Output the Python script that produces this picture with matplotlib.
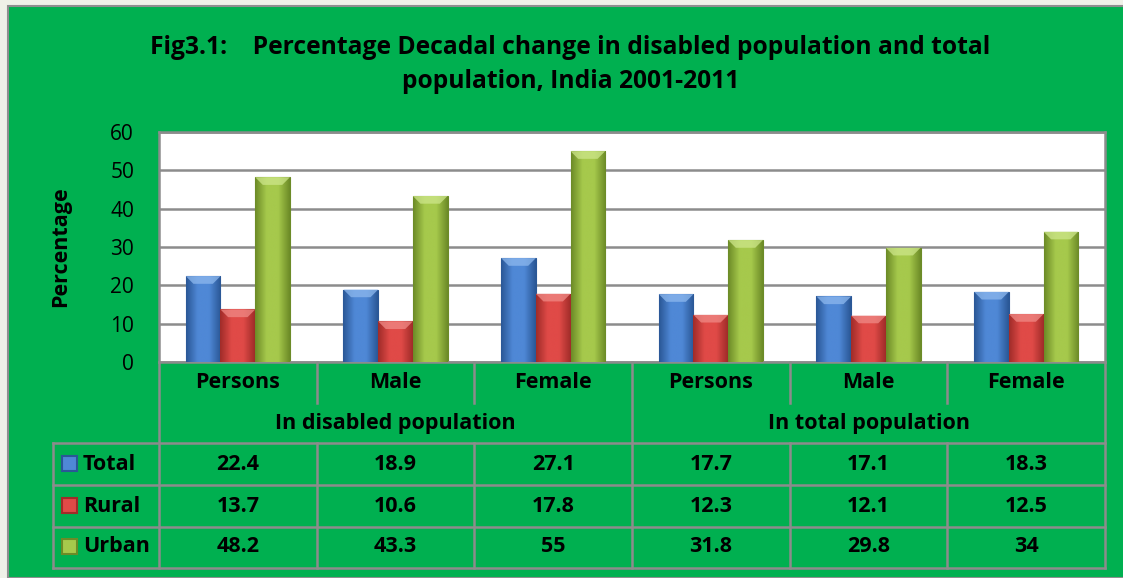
#======================================================================
#   IMPORTS:
#======================================================================

import numpy as np
import matplotlib
matplotlib.use('Agg')
from matplotlib import pyplot as plt
from matplotlib.patches import Rectangle, Polygon
from matplotlib.colors import LinearSegmentedColormap
import matplotlib.transforms as mtransforms


#======================================================================
#   DATA:
#======================================================================

ls_categories = ['Persons', 'Male', 'Female', 'Persons', 'Male', 'Female']
ls_groups = ['In disabled population', 'In total population']
ls_series = ['Total', 'Rural', 'Urban']

ls_total = [22.4, 18.9, 27.1, 17.7, 17.1, 18.3]
ls_rural = [13.7, 10.6, 17.8, 12.3, 12.1, 12.5]
ls_urban = [48.2, 43.3, 55, 31.8, 29.8, 34]

ls_labels_total = ['22.4', '18.9', '27.1', '17.7', '17.1', '18.3']
ls_labels_rural = ['13.7', '10.6', '17.8', '12.3', '12.1', '12.5']
ls_labels_urban = ['48.2', '43.3', '55', '31.8', '29.8', '34']

ls_yticks = [0, 10, 20, 30, 40, 50, 60]


#======================================================================
#   STYLE:
#======================================================================

W, H = 1123, 578
GREEN_BG = '#00B050'
GRID = '#8C8C8C'
FONT = 'Open Sans'
FS = 15.5                   # table text size

# (dark edge, light middle, bevel top) for the bar gradient
dc_colors = {
    'Total': ('#2A5796', '#4F88D6', '#8DB8EE'),
    'Rural': ('#A02C29', '#E04A47', '#F08A86'),
    'Urban': ('#6C8B27', '#A6C94C', '#CDE68A'),
}

plt.rcParams['font.family'] = [FONT, 'DejaVu Sans']


#======================================================================
#   FUNCTIONS:
#======================================================================

def fy(py):
    '''pixel row from top -> figure fraction'''
    return 1 - py / H


def fx(px):
    return px / W


def gradient_bar(ax, patch, c_dark, c_light, c_top):
    cmap = LinearSegmentedColormap.from_list('g', [c_dark, c_light, c_light, c_dark])
    bb = patch.get_bbox()
    grad = np.linspace(0, 1, 64).reshape(1, -1)
    im = ax.imshow(grad, extent=[bb.x0, bb.x1, bb.y0, bb.y1], cmap=cmap,
                   aspect='auto', zorder=3, interpolation='bicubic')
    im.set_clip_path(patch)
    # light bevel at the top of the bar
    top = min(2.0, bb.y1 - bb.y0)
    dx = (bb.x1 - bb.x0) * 0.22
    ax.add_patch(Polygon([(bb.x0, bb.y1), (bb.x1, bb.y1), (bb.x1 - dx, bb.y1 - top),
                          (bb.x0 + dx, bb.y1 - top)], closed=True,
                         facecolor=c_top, edgecolor='none', alpha=0.75, zorder=4))


#======================================================================
#   MAIN:
#======================================================================

fig = plt.figure(figsize=(W / 100, H / 100), dpi=100)
fig.patch.set_facecolor('#EFF1E8')

# green chart box
fig.patches.append(Rectangle((fx(8), 0), 1.0, fy(6), transform=fig.transFigure,
                             facecolor=GREEN_BG, edgecolor='#8F8F8F', linewidth=1.5,
                             zorder=-5))

ax = fig.add_axes([fx(159), fy(362), fx(1105 - 159), (362 - 132) / H])
ax.set_facecolor('white')
ax.set_zorder(1)

x = np.arange(len(ls_categories))
bw = 0.22

ls_all = [ls_total, ls_rural, ls_urban]
for i, (name, vals) in enumerate(zip(ls_series, ls_all)):
    bars = ax.bar(x + (i - 1) * bw, vals, bw, color=dc_colors[name][0],
                  edgecolor=dc_colors[name][0], linewidth=0.8, zorder=2)
    for b in bars:
        gradient_bar(ax, b, *dc_colors[name])

ax.set_xlim(-0.5, 5.5)
ax.set_ylim(0, 60)
ax.set_yticks(ls_yticks)
ax.set_yticklabels([str(t) for t in ls_yticks], fontsize=15)
ax.set_xticks([])
ax.tick_params(axis='y', length=0, pad=18)
ax.yaxis.grid(True, color=GRID, linewidth=1.8, zorder=0)
ax.set_axisbelow(True)
for sp in ax.spines.values():
    sp.set_color(GRID)
    sp.set_linewidth(1.8)

fig.text(fx(61), fy(247), 'Percentage', rotation=90, fontsize=15.5,
         fontweight='bold', ha='center', va='center')

# title
fig.text(fx(570), fy(47), 'Fig3.1:    Percentage Decadal change in disabled population and total',
         fontsize=17.7, fontweight='bold', ha='center', va='center')
fig.text(fx(571), fy(81), 'population, India 2001-2011',
         fontsize=17.7, fontweight='bold', ha='center', va='center')

#---------------------------------------------------------
#   DATA TABLE:
#---------------------------------------------------------

tr = mtransforms.blended_transform_factory(ax.transData, fig.transFigure)
x_left = -0.5 - (159 - 53) / (946 / 6)
lkw = dict(color=GRID, linewidth=1.8, transform=tr, clip_on=False)

def hline(py, x0, x1):
    fig.add_artist(plt.Line2D([x0, x1], [fy(py), fy(py)], **lkw))

def vline(xd, py0, py1):
    fig.add_artist(plt.Line2D([xd, xd], [fy(py0), fy(py1)], **lkw))

for py in [443, 485, 527, 568]:
    hline(py, x_left, 5.5)
vline(-0.5, 362, 568)
vline(5.5, 362, 568)
vline(x_left, 443, 568)
vline(2.5, 362, 568)
for xd in [0.5, 1.5, 3.5, 4.5]:
    vline(xd, 362, 403)
    vline(xd, 443, 568)

for xi, cat in zip(x, ls_categories):
    fig.text(xi, fy(382), cat, transform=tr, fontsize=FS, fontweight='bold',
             ha='center', va='center')

for gi, g in enumerate(ls_groups):
    fig.text(gi * 3 + 1, fy(423), g, transform=tr, fontsize=FS, fontweight='bold',
             ha='center', va='center')

ls_row_y = [464, 506, 547]
ls_row_labels = [ls_labels_total, ls_labels_rural, ls_labels_urban]
for name, py, labs in zip(ls_series, ls_row_y, ls_row_labels):
    for xi, lab in zip(x, labs):
        fig.text(xi, fy(py), lab, transform=tr, fontsize=FS, fontweight='bold',
                 ha='center', va='center')
    # legend key
    c_dark, c_light, c_top = dc_colors[name]
    fig.patches.append(Rectangle((fx(62), fy(py + 7)), fx(15), 15 / H,
                                 transform=fig.transFigure, facecolor=c_light,
                                 edgecolor=c_dark, linewidth=1.5, zorder=3))
    fig.text(fx(83), fy(py), name, fontsize=FS, fontweight='bold',
             ha='left', va='center')

fig.savefig('out.png', dpi=100, facecolor=fig.get_facecolor())


#======================================================================
#   END OF FILE
#======================================================================
